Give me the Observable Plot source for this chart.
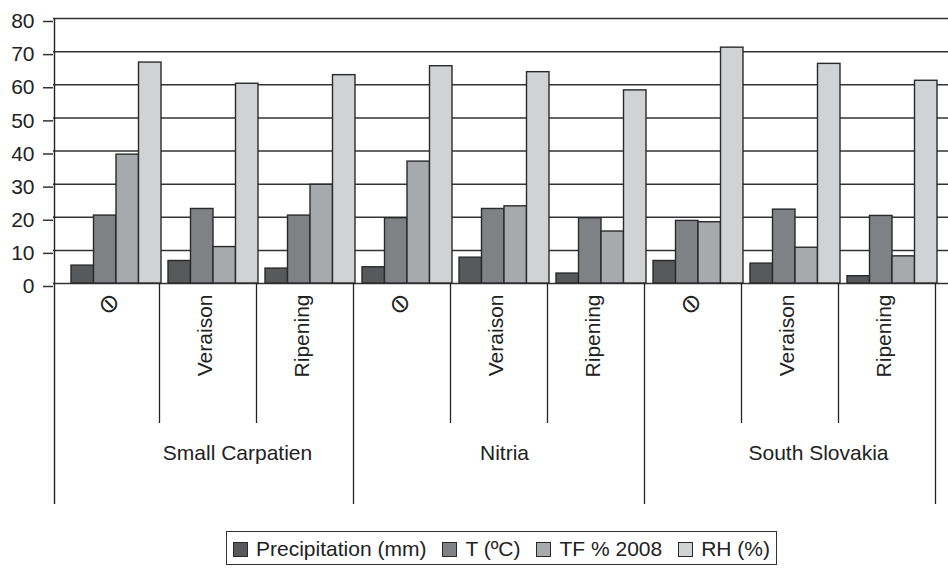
<!DOCTYPE html>
<html>
<head>
<meta charset="utf-8">
<script src="https://cdn.jsdelivr.net/npm/d3@7"></script>
<script src="https://cdn.jsdelivr.net/npm/@observablehq/plot@0.6"></script>
<style>
  body { margin: 0; background: #fff; font-family: "Liberation Sans", Arial, sans-serif; }
  #chart svg { display: block; }
  .legend { display: inline-flex; align-items: center; margin-left: 226px; margin-top: 19px;
    border: 1.5px solid #333; padding: 5px 6px 3px 6px; font-size: 21px; line-height: 24px; color: #222; }
  .legend .item { display: inline-flex; align-items: center; margin-right: 16px; }
  .legend .item:last-child { margin-right: 0; }
  .legend .sw { width: 13px; height: 13px; border: 1.5px solid #2a2a2a; margin-right: 8px; }
</style>
</head>
<body>
<div id="chart"></div>
<script>
// ---- data ----
const regions = ["Small Carpatien", "Nitria", "South Slovakia"];
const stages = ["\u2298", "Veraison", "Ripening"];
const seriesNames = ["Precipitation (mm)", "T (\u00BAC)", "TF % 2008", "RH (%)"];
const precipitation = [5.4, 6.8, 4.5, 4.9, 7.8, 3.0, 6.8, 6.0, 2.2];
const temperature   = [20.5, 22.5, 20.5, 19.7, 22.5, 19.7, 18.9, 22.3, 20.4];
const tf2008        = [38.9, 11.0, 29.8, 36.8, 23.3, 15.7, 18.5, 10.8, 8.2];
const rh            = [66.7, 60.3, 62.9, 65.6, 63.8, 58.3, 71.2, 66.3, 61.2];
const yTicks = [0, 10, 20, 30, 40, 50, 60, 70, 80];

// ---- styles ----
const colors = ["#58595b", "#808184", "#a8a9ac", "#d1d2d4"];
const seriesValues = [precipitation, temperature, tf2008, rh];
const W = 948, H = 512, MT = 18, MB = 229, ML = 53, MR = 0;
const frameH = H - MT - MB;
const regionDx = [24, 0, 23];

const rows = regions.flatMap((r, i) => stages.map((s, j) => {
  const idx = i * 3 + j;
  return {key: r + "|" + s, region: r, stage: s, stageIndex: j, regionIndex: i,
    v: seriesValues.map(a => a[idx])};
}));
const keys = rows.map(d => d.key);
const bw = 90, sub = bw / 4;

const bars = seriesValues.map((_, k) => Plot.barY(rows, {
  x: "key", y: d => d.v[k], fill: colors[k], stroke: "#2a2a2a", strokeWidth: 1.4,
  insetLeft: k * sub, insetRight: (3 - k) * sub
}));

const regionLabels = regions.map((r, i) => Plot.text(rows.filter(d => d.regionIndex === i && d.stageIndex === 1), {
  x: "key", text: () => r, frameAnchor: "bottom", dy: 176, dx: regionDx[i],
  fontSize: 21, fill: "#222"
}));

const chart = Plot.plot({
  width: W, height: H, marginTop: MT, marginBottom: MB, marginLeft: ML, marginRight: MR,
  style: {fontFamily: "Liberation Sans, Arial, sans-serif", fontSize: "21px", background: "#fff"},
  x: {domain: keys, range: [66.35, 942.05], paddingInner: 0.075, paddingOuter: 0.0375, axis: null},
  y: {domain: [0, 80]},
  marks: [
    Plot.gridY(yTicks, {stroke: "#333", strokeOpacity: 1, strokeWidth: 1.5}),
    ...bars,
    Plot.axisY(yTicks, {tickSize: 10, tickPadding: 9, stroke: "#333", strokeWidth: 1.5,
      fill: "#222", fontSize: 21, dy: 3, tickFormat: d => String(d), label: null}),
    // left axis line extending through the category area
    Plot.ruleX(rows.slice(0, 1), {x: "key", dx: -62, insetBottom: -221, stroke: "#222", strokeWidth: 1.4}),
    // minor separators (between stages)
    Plot.ruleX(rows.filter(d => d.stageIndex !== 2), {x: "key", dx: 43, insetTop: frameH, insetBottom: -140, stroke: "#222", strokeWidth: 1.3}),
    // major separators (between regions)
    Plot.ruleX(rows.filter(d => d.stageIndex === 2), {x: "key", dx: 43, insetTop: frameH, insetBottom: -221, stroke: "#222", strokeWidth: 1.3}),
    // stage labels (words)
    Plot.text(rows.filter(d => d.stageIndex !== 0), {x: "key", text: "stage", frameAnchor: "bottom", rotate: -90, textAnchor: "end",
      dy: 11, dx: -1.5, fontSize: 21, fill: "#222"}),
    // stage labels (symbol)
    Plot.text(rows.filter(d => d.stageIndex === 0), {x: "key", text: "stage", frameAnchor: "bottom", rotate: -90, textAnchor: "end",
      dy: 10, dx: 0, fontSize: 25, fill: "#222", fontFamily: "DejaVu Sans"}),
    ...regionLabels
  ]
});
document.getElementById("chart").appendChild(chart);

// legend
const legend = document.createElement("div");
legend.className = "legend";
seriesNames.forEach((name, k) => {
  const item = document.createElement("span");
  item.className = "item";
  const sw = document.createElement("span");
  sw.className = "sw";
  sw.style.background = colors[k];
  const label = document.createElement("span");
  label.textContent = name;
  item.appendChild(sw);
  item.appendChild(label);
  legend.appendChild(item);
});
document.body.appendChild(legend);
</script>
</body>
</html>
